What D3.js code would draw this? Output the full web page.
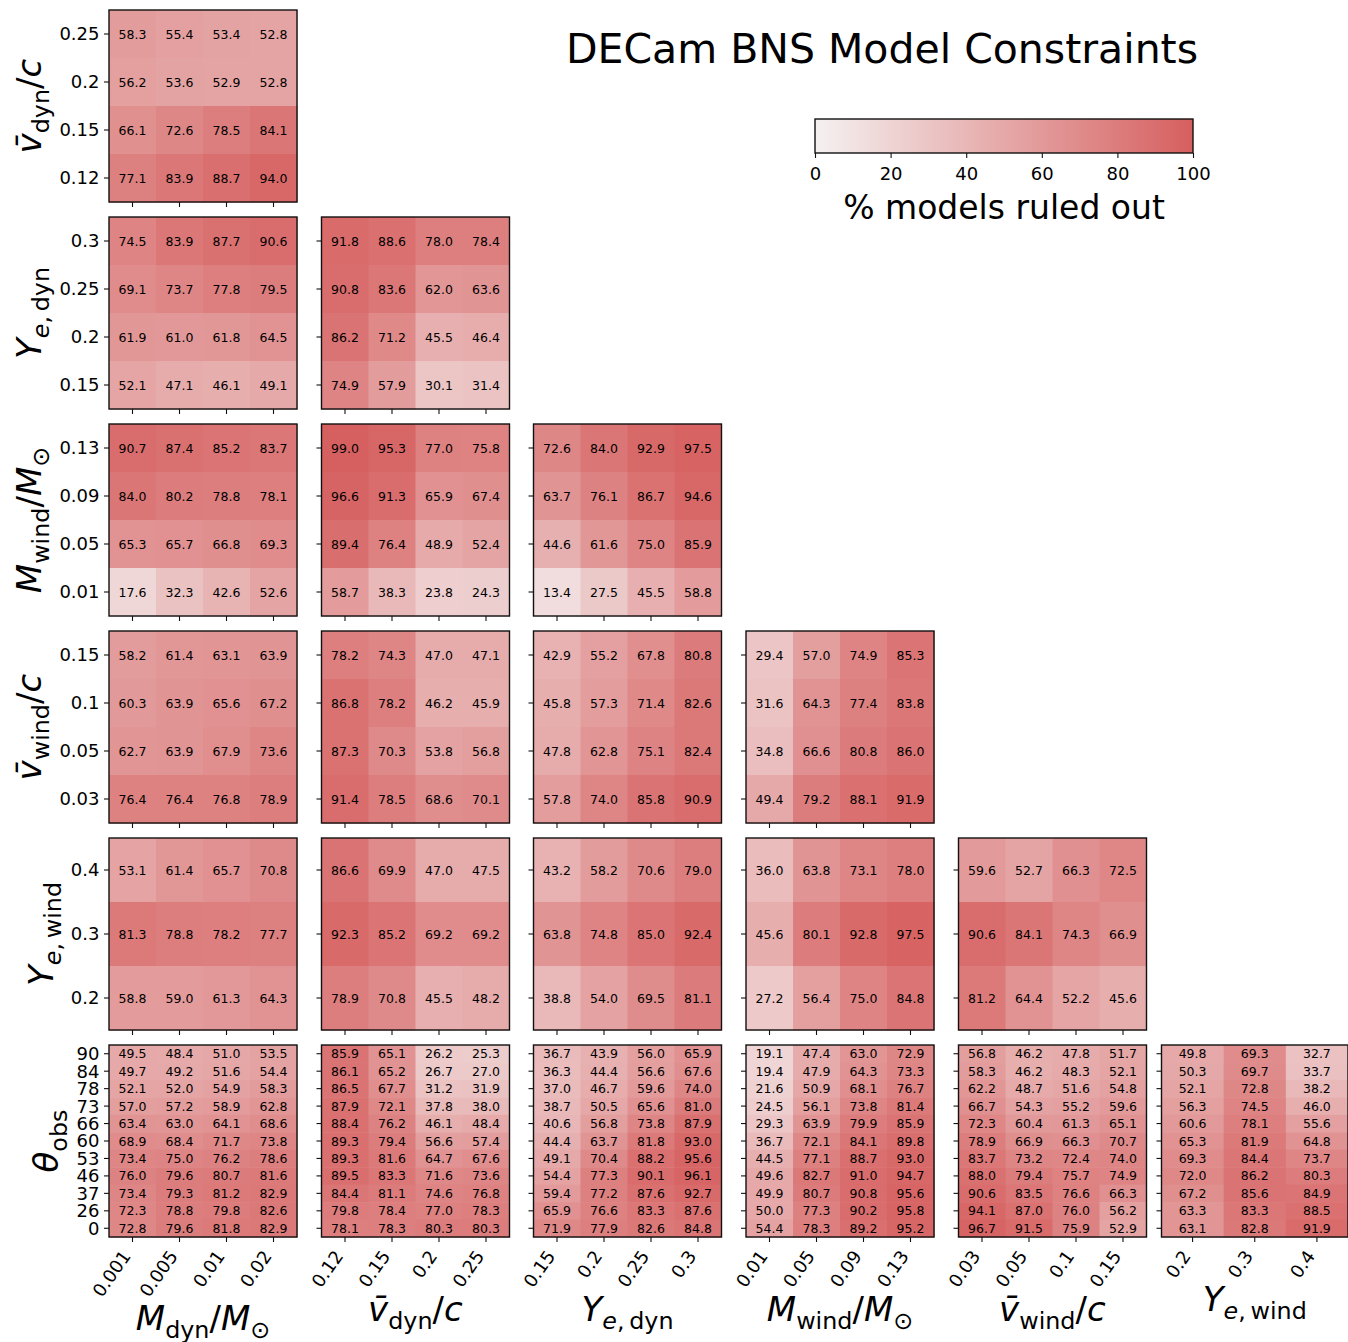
<!DOCTYPE html>
<html>
<head>
<meta charset="utf-8">
<script src="https://cdn.jsdelivr.net/npm/d3@7"></script>
<style>
  body { margin: 0; background: #fff; }
  svg { display: block; }
  text { font-family: "DejaVu Sans", sans-serif; fill: #000; }
</style>
</head>
<body>
<svg id="chart" width="1348" height="1342"></svg>
<script>
// ---- grid values of each model parameter (tick labels) ----
const mDynVals   = ["0.001", "0.005", "0.01", "0.02"];
const vDynVals   = ["0.12", "0.15", "0.2", "0.25"];
const yeDynVals  = ["0.15", "0.2", "0.25", "0.3"];
const mWindVals  = ["0.01", "0.05", "0.09", "0.13"];
const vWindVals  = ["0.03", "0.05", "0.1", "0.15"];
const yeWindVals = ["0.2", "0.3", "0.4"];
const thetaVals  = ["0", "26", "37", "46", "53", "60", "66", "73", "78", "84", "90"];

// ---- percentage of models ruled out, per parameter pair ----
// each array lists rows from the largest y value down to the smallest
const vDyn_mDyn = [
  [58.3, 55.4, 53.4, 52.8], [56.2, 53.6, 52.9, 52.8], [66.1, 72.6, 78.5, 84.1], [77.1, 83.9, 88.7, 94.0]];

const yeDyn_mDyn = [
  [74.5, 83.9, 87.7, 90.6], [69.1, 73.7, 77.8, 79.5], [61.9, 61.0, 61.8, 64.5], [52.1, 47.1, 46.1, 49.1]];
const yeDyn_vDyn = [
  [91.8, 88.6, 78.0, 78.4], [90.8, 83.6, 62.0, 63.6], [86.2, 71.2, 45.5, 46.4], [74.9, 57.9, 30.1, 31.4]];

const mWind_mDyn = [
  [90.7, 87.4, 85.2, 83.7], [84.0, 80.2, 78.8, 78.1], [65.3, 65.7, 66.8, 69.3], [17.6, 32.3, 42.6, 52.6]];
const mWind_vDyn = [
  [99.0, 95.3, 77.0, 75.8], [96.6, 91.3, 65.9, 67.4], [89.4, 76.4, 48.9, 52.4], [58.7, 38.3, 23.8, 24.3]];
const mWind_yeDyn = [
  [72.6, 84.0, 92.9, 97.5], [63.7, 76.1, 86.7, 94.6], [44.6, 61.6, 75.0, 85.9], [13.4, 27.5, 45.5, 58.8]];

const vWind_mDyn = [
  [58.2, 61.4, 63.1, 63.9], [60.3, 63.9, 65.6, 67.2], [62.7, 63.9, 67.9, 73.6], [76.4, 76.4, 76.8, 78.9]];
const vWind_vDyn = [
  [78.2, 74.3, 47.0, 47.1], [86.8, 78.2, 46.2, 45.9], [87.3, 70.3, 53.8, 56.8], [91.4, 78.5, 68.6, 70.1]];
const vWind_yeDyn = [
  [42.9, 55.2, 67.8, 80.8], [45.8, 57.3, 71.4, 82.6], [47.8, 62.8, 75.1, 82.4], [57.8, 74.0, 85.8, 90.9]];
const vWind_mWind = [
  [29.4, 57.0, 74.9, 85.3], [31.6, 64.3, 77.4, 83.8], [34.8, 66.6, 80.8, 86.0], [49.4, 79.2, 88.1, 91.9]];

const yeWind_mDyn = [
  [53.1, 61.4, 65.7, 70.8], [81.3, 78.8, 78.2, 77.7], [58.8, 59.0, 61.3, 64.3]];
const yeWind_vDyn = [
  [86.6, 69.9, 47.0, 47.5], [92.3, 85.2, 69.2, 69.2], [78.9, 70.8, 45.5, 48.2]];
const yeWind_yeDyn = [
  [43.2, 58.2, 70.6, 79.0], [63.8, 74.8, 85.0, 92.4], [38.8, 54.0, 69.5, 81.1]];
const yeWind_mWind = [
  [36.0, 63.8, 73.1, 78.0], [45.6, 80.1, 92.8, 97.5], [27.2, 56.4, 75.0, 84.8]];
const yeWind_vWind = [
  [59.6, 52.7, 66.3, 72.5], [90.6, 84.1, 74.3, 66.9], [81.2, 64.4, 52.2, 45.6]];

const theta_mDyn = [
  [49.5, 48.4, 51.0, 53.5], [49.7, 49.2, 51.6, 54.4], [52.1, 52.0, 54.9, 58.3], [57.0, 57.2, 58.9, 62.8],
  [63.4, 63.0, 64.1, 68.6], [68.9, 68.4, 71.7, 73.8], [73.4, 75.0, 76.2, 78.6], [76.0, 79.6, 80.7, 81.6],
  [73.4, 79.3, 81.2, 82.9], [72.3, 78.8, 79.8, 82.6], [72.8, 79.6, 81.8, 82.9]];
const theta_vDyn = [
  [85.9, 65.1, 26.2, 25.3], [86.1, 65.2, 26.7, 27.0], [86.5, 67.7, 31.2, 31.9], [87.9, 72.1, 37.8, 38.0],
  [88.4, 76.2, 46.1, 48.4], [89.3, 79.4, 56.6, 57.4], [89.3, 81.6, 64.7, 67.6], [89.5, 83.3, 71.6, 73.6],
  [84.4, 81.1, 74.6, 76.8], [79.8, 78.4, 77.0, 78.3], [78.1, 78.3, 80.3, 80.3]];
const theta_yeDyn = [
  [36.7, 43.9, 56.0, 65.9], [36.3, 44.4, 56.6, 67.6], [37.0, 46.7, 59.6, 74.0], [38.7, 50.5, 65.6, 81.0],
  [40.6, 56.8, 73.8, 87.9], [44.4, 63.7, 81.8, 93.0], [49.1, 70.4, 88.2, 95.6], [54.4, 77.3, 90.1, 96.1],
  [59.4, 77.2, 87.6, 92.7], [65.9, 76.6, 83.3, 87.6], [71.9, 77.9, 82.6, 84.8]];
const theta_mWind = [
  [19.1, 47.4, 63.0, 72.9], [19.4, 47.9, 64.3, 73.3], [21.6, 50.9, 68.1, 76.7], [24.5, 56.1, 73.8, 81.4],
  [29.3, 63.9, 79.9, 85.9], [36.7, 72.1, 84.1, 89.8], [44.5, 77.1, 88.7, 93.0], [49.6, 82.7, 91.0, 94.7],
  [49.9, 80.7, 90.8, 95.6], [50.0, 77.3, 90.2, 95.8], [54.4, 78.3, 89.2, 95.2]];
const theta_vWind = [
  [56.8, 46.2, 47.8, 51.7], [58.3, 46.2, 48.3, 52.1], [62.2, 48.7, 51.6, 54.8], [66.7, 54.3, 55.2, 59.6],
  [72.3, 60.4, 61.3, 65.1], [78.9, 66.9, 66.3, 70.7], [83.7, 73.2, 72.4, 74.0], [88.0, 79.4, 75.7, 74.9],
  [90.6, 83.5, 76.6, 66.3], [94.1, 87.0, 76.0, 56.2], [96.7, 91.5, 75.9, 52.9]];
const theta_yeWind = [
  [49.8, 69.3, 32.7], [50.3, 69.7, 33.7], [52.1, 72.8, 38.2], [56.3, 74.5, 46.0],
  [60.6, 78.1, 55.6], [65.3, 81.9, 64.8], [69.3, 84.4, 73.7], [72.0, 86.2, 80.3],
  [67.2, 85.6, 84.9], [63.3, 83.3, 88.5], [63.1, 82.8, 91.9]];

const colorTicks = [0, 20, 40, 60, 80, 100];

// ---- axis label pieces: [text, kind] (i = italic, s = subscript, si = italic subscript) ----
const labelMDyn   = [["M", "i"], ["dyn", "s"], ["/", ""], ["M", "i"], ["\u2299", "s"]];
const labelVDyn   = [["v\u0304", "i"], ["dyn", "s"], ["/", ""], ["c", "i"]];
const labelYeDyn  = [["Y", "i"], ["e", "si"], [",\u2009dyn", "s"]];
const labelMWind  = [["M", "i"], ["wind", "s"], ["/", ""], ["M", "i"], ["\u2299", "s"]];
const labelVWind  = [["v\u0304", "i"], ["wind", "s"], ["/", ""], ["c", "i"]];
const labelYeWind = [["Y", "i"], ["e", "si"], [",\u2009wind", "s"]];
const labelTheta  = [["\u03b8", "i"], ["obs", "s"]];

// parameters in corner order: columns use 0..5, rows use 1..6
const paramVals   = [mDynVals, vDynVals, yeDynVals, mWindVals, vWindVals, yeWindVals, thetaVals];
const paramLabels = [labelMDyn, labelVDyn, labelYeDyn, labelMWind, labelVWind, labelYeWind, labelTheta];
const panelValues = [
  [vDyn_mDyn],
  [yeDyn_mDyn, yeDyn_vDyn],
  [mWind_mDyn, mWind_vDyn, mWind_yeDyn],
  [vWind_mDyn, vWind_vDyn, vWind_yeDyn, vWind_mWind],
  [yeWind_mDyn, yeWind_vDyn, yeWind_yeDyn, yeWind_mWind, yeWind_vWind],
  [theta_mDyn, theta_vDyn, theta_yeDyn, theta_mWind, theta_vWind, theta_yeWind]
];

// ---- layout ----
const colLeft = [109, 321.5, 533.5, 746, 958.5, 1161.5];
const colWidth = [188, 188, 188, 188, 188, 186.5];
const rowTop = [10, 217, 424, 631, 838, 1045];
const rowHeight = 192;
const tickLen = 5;
const tickFont = 18;
const cellFont = 12.5;
const labelFont = 34;
const xTickAngle = 55;

const color = d3.scaleLinear().domain([0, 100]).range(["#f5f1f1", "#d65f5f"])
  .interpolate(d3.interpolateRgb);

const svg = d3.select("#chart");

// math-style label: italic symbols with roman or italic subscripts
function mathText(sel, segs, fs) {
  const t = sel.append("text").attr("font-size", fs);
  const drop = fs * 0.24;
  let inSub = false;
  segs.forEach(([s, kind]) => {
    const sub = kind.startsWith("s");
    const ital = kind === "i" || kind === "si";
    const ts = t.append("tspan").text(s)
      .attr("font-style", ital ? "italic" : "normal")
      .attr("font-size", sub ? fs * 0.7 : fs);
    if (sub && !inSub) ts.attr("dy", drop);
    if (!sub && inSub) ts.attr("dy", -drop);
    inSub = sub;
  });
  return t;
}

const nRows = 6;
for (let r = 0; r < nRows; r++) {
  const yVals = paramVals[r + 1];
  const y = d3.scaleBand().domain(yVals.slice().reverse())
    .range([rowTop[r], rowTop[r] + rowHeight]).padding(0);
  let tickLabelLeft = Infinity;

  for (let c = 0; c <= r; c++) {
    const xVals = paramVals[c];
    const x = d3.scaleBand().domain(xVals)
      .range([colLeft[c], colLeft[c] + colWidth[c]]).padding(0);
    const z = panelValues[r][c];
    const rowsTopDown = yVals.slice().reverse();
    const cells = [];
    z.forEach((row, i) => row.forEach((v, j) => cells.push({ xv: xVals[j], yv: rowsTopDown[i], v })));

    const g = svg.append("g");
    g.selectAll("rect.cell").data(cells).join("rect")
      .attr("class", "cell")
      .attr("x", d => x(d.xv)).attr("y", d => y(d.yv))
      .attr("width", x.bandwidth() + 0.5).attr("height", y.bandwidth() + 0.5)
      .attr("fill", d => color(d.v));
    g.selectAll("text.val").data(cells).join("text")
      .attr("class", "val")
      .attr("x", d => x(d.xv) + x.bandwidth() / 2)
      .attr("y", d => y(d.yv) + y.bandwidth() / 2)
      .attr("dy", "0.36em")
      .attr("text-anchor", "middle")
      .attr("font-size", cellFont)
      .attr("fill", "#111")
      .text(d => d.v.toFixed(1));

    // frame
    g.append("rect")
      .attr("x", colLeft[c]).attr("y", rowTop[r])
      .attr("width", colWidth[c]).attr("height", rowHeight)
      .attr("fill", "none").attr("stroke", "#111").attr("stroke-width", 1.4);

    // y ticks
    const yAx = d3.axisLeft(y).tickSize(tickLen).tickPadding(4.5);
    const yg = g.append("g").attr("transform", `translate(${colLeft[c]},0)`).call(yAx);
    yg.select(".domain").remove();
    yg.selectAll(".tick line").attr("stroke", "#111").attr("stroke-width", 1.1);
    yg.selectAll(".tick text").attr("font-size", tickFont).attr("font-family", "DejaVu Sans")
      .attr("fill", "#000").attr("dy", "0.36em");
    if (c > 0) yg.selectAll(".tick text").remove();
    else {
      yg.selectAll(".tick text").each(function () {
        const b = this.getBBox();
        tickLabelLeft = Math.min(tickLabelLeft, colLeft[c] + b.x);
      });
    }

    // x ticks
    const bottom = rowTop[r] + rowHeight;
    const xAx = d3.axisBottom(x).tickSize(tickLen).tickPadding(0);
    const xg = g.append("g").attr("transform", `translate(0,${bottom})`).call(xAx);
    xg.select(".domain").remove();
    xg.selectAll(".tick line").attr("stroke", "#111").attr("stroke-width", 1.1);
    if (r < nRows - 1) {
      xg.selectAll(".tick text").remove();
    } else {
      xg.selectAll(".tick text")
        .attr("font-size", tickFont).attr("font-family", "DejaVu Sans").attr("fill", "#000")
        .attr("text-anchor", "end").attr("dy", null).attr("y", null)
        .attr("transform", `translate(-1,19) rotate(${-xTickAngle})`);
      const tb = xg.node().getBBox();
      const tickBottom = bottom + tb.y + tb.height;
      // x axis label, baseline set below the rotated tick labels
      const lg = svg.append("g");
      const lt = mathText(lg, paramLabels[c], labelFont);
      const lb = lt.node().getBBox();
      const cx = colLeft[c] + colWidth[c] / 2;
      lg.attr("transform", `translate(${cx - (lb.x + lb.width / 2)},${tickBottom + 29.5})`);
    }
  }

  // y axis label
  const lg = svg.append("g");
  const lt = mathText(lg, paramLabels[r + 1], labelFont);
  const lb = lt.node().getBBox();
  const tx = tickLabelLeft - 4 - (lb.y + lb.height);
  const ty = rowTop[r] + rowHeight / 2 + lb.x + lb.width / 2;
  lg.attr("transform", `translate(${tx},${ty}) rotate(-90)`);
}

// ---- title ----
svg.append("text")
  .attr("x", 882).attr("y", 63)
  .attr("text-anchor", "middle")
  .attr("font-size", 41)
  .text("DECam BNS Model Constraints");

// ---- colour bar ----
const cbX0 = 815, cbX1 = 1193, cbY = 119, cbH = 34;
const defs = svg.append("defs");
const grad = defs.append("linearGradient").attr("id", "cbGrad")
  .attr("x1", "0%").attr("x2", "100%").attr("y1", "0%").attr("y2", "0%");
d3.range(0, 101, 5).forEach(p => {
  grad.append("stop").attr("offset", p + "%").attr("stop-color", color(p));
});
const cbScale = d3.scaleLinear().domain([0, 100]).range([cbX0, cbX1]);
svg.append("rect")
  .attr("x", cbX0).attr("y", cbY).attr("width", cbX1 - cbX0).attr("height", cbH)
  .attr("fill", "url(#cbGrad)");
svg.append("rect")
  .attr("x", cbX0).attr("y", cbY).attr("width", cbX1 - cbX0).attr("height", cbH)
  .attr("fill", "none").attr("stroke", "#111").attr("stroke-width", 1.4);
const cbg = svg.append("g").attr("transform", `translate(0,${cbY + cbH})`)
  .call(d3.axisBottom(cbScale).tickValues(colorTicks).tickSize(tickLen).tickPadding(9));
cbg.select(".domain").remove();
cbg.selectAll(".tick line").attr("stroke", "#111").attr("stroke-width", 1.1);
cbg.selectAll(".tick text").attr("font-size", tickFont).attr("font-family", "DejaVu Sans").attr("fill", "#000");

svg.append("text")
  .attr("x", 1004).attr("y", 219)
  .attr("text-anchor", "middle")
  .attr("font-size", 33)
  .text("% models ruled out");
</script>
</body>
</html>
